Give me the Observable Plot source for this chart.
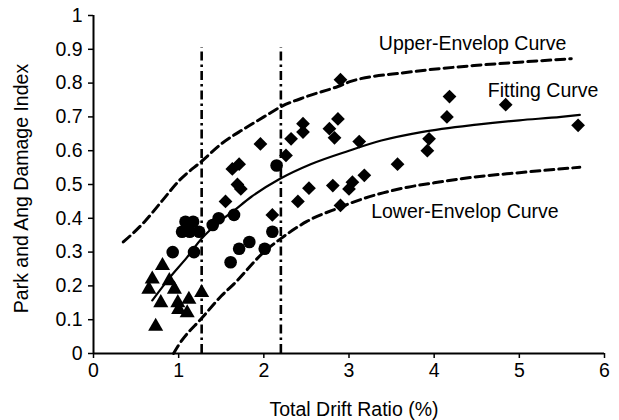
<!DOCTYPE html>
<html><head><meta charset="utf-8">
<script src="https://cdn.jsdelivr.net/npm/d3@7"></script>
<script src="https://cdn.jsdelivr.net/npm/@observablehq/plot@0.6"></script>
<style>html,body{margin:0;padding:0;background:#fff;}</style>
</head><body><div id="chart"></div>
<script>
// Tick values
const xTicks = [0, 1, 2, 3, 4, 5, 6];
const yTicks = [0, 0.1, 0.2, 0.3, 0.4, 0.5, 0.6, 0.7, 0.8, 0.9, 1];

// Scatter data: [drift ratio %, damage index]
const triangles = [
  [0.81, 0.26], [0.69, 0.22], [0.89, 0.215], [0.65, 0.19], [0.95, 0.19],
  [0.79, 0.15], [0.99, 0.15], [1.12, 0.16], [1.27, 0.18], [1.00, 0.13],
  [1.10, 0.12], [0.73, 0.08]
];
const circles = [
  [0.93, 0.30], [1.04, 0.36], [1.08, 0.39], [1.13, 0.36], [1.17, 0.39],
  [1.24, 0.36], [1.18, 0.30], [1.40, 0.38], [1.47, 0.40], [1.65, 0.41],
  [1.61, 0.27], [1.71, 0.31], [1.83, 0.33], [2.01, 0.31], [2.10, 0.36],
  [2.15, 0.556]
];
const diamonds = [
  [1.55, 0.45], [1.63, 0.546], [1.71, 0.56], [1.69, 0.50], [1.73, 0.487],
  [1.96, 0.62], [2.10, 0.41], [2.26, 0.586], [2.32, 0.635], [2.46, 0.68],
  [2.46, 0.655], [2.40, 0.45], [2.53, 0.489], [2.77, 0.665], [2.83, 0.638],
  [2.87, 0.694], [2.90, 0.81], [2.81, 0.497], [2.90, 0.438], [3.00, 0.487],
  [3.04, 0.507], [3.12, 0.627], [3.18, 0.527], [3.57, 0.56], [3.92, 0.60],
  [3.94, 0.635], [4.15, 0.70], [4.18, 0.76], [4.84, 0.736], [5.69, 0.675]
];

// Curves
const fitCurve = [
  [0.69, 0.157], [0.90, 0.226], [1.10, 0.285], [1.27, 0.34], [1.45, 0.384],
  [1.65, 0.423], [1.85, 0.463], [2.19, 0.517], [2.55, 0.56], [3.0, 0.60],
  [3.38, 0.63], [3.85, 0.655], [4.5, 0.677], [5.0, 0.69], [5.49, 0.70], [5.71, 0.706]
];
const upperCurve = [
  [0.35, 0.33], [0.6, 0.39], [0.81, 0.453], [1.0, 0.51], [1.28, 0.571],
  [1.5, 0.62], [1.77, 0.665], [2.0, 0.70], [2.2, 0.73], [2.5, 0.76],
  [2.87, 0.79], [3.02, 0.805], [3.69, 0.832], [4.47, 0.852], [5.0, 0.862], [5.61, 0.872]
];
const lowerCurve = [
  [0.94, 0.0], [1.0, 0.025], [1.28, 0.107], [1.5, 0.17], [1.65, 0.206],
  [2.0, 0.30], [2.2, 0.34], [2.5, 0.39], [2.9, 0.433], [3.02, 0.445],
  [3.69, 0.492], [4.0, 0.505], [4.47, 0.522], [5.0, 0.535], [5.71, 0.551]
];

// Vertical dash-dot limits
const limitX = [1.27, 2.2];
const limitTop = 0.905;

// Curve annotations
const annoText = ["Upper-Envelop Curve", "Fitting Curve", "Lower-Envelop Curve"];
const annoX = [3.35, 4.63, 3.26];
const annoY = [0.917, 0.778, 0.418];
const annos = annoText.map((t, i) => ({t, x: annoX[i], y: annoY[i]}));

const X = d => d[0], Y = d => d[1];

const chart = Plot.plot({
  width: 619, height: 420,
  marginLeft: 93, marginRight: 15, marginTop: 15, marginBottom: 67,
  style: {fontFamily: "'Liberation Sans', Arial, sans-serif", fontSize: "19.5px", background: "white", color: "black"},
  x: {domain: [0, 6]},
  y: {domain: [0, 1]},
  marks: [
    Plot.axisX({ticks: xTicks, tickSize: 5, tickPadding: 5, label: null, strokeWidth: 1.5,
      tickFormat: d => String(d)}),
    Plot.axisY({ticks: yTicks, tickSize: 5, tickPadding: 6, label: null, strokeWidth: 1.5,
      tickFormat: d => String(+d.toFixed(1))}),
    Plot.ruleY([0], {stroke: "black", strokeWidth: 2}),
    Plot.ruleX([0], {stroke: "black", strokeWidth: 2}),
    Plot.ruleX(limitX, {y1: 0, y2: limitTop, stroke: "black", strokeWidth: 2.6, strokeDasharray: "9,4,2.5,4"}),
    Plot.line(upperCurve, {x: X, y: Y, curve: "monotone-x", stroke: "black", strokeWidth: 3, strokeDasharray: "9,5"}),
    Plot.line(lowerCurve, {x: X, y: Y, curve: "monotone-x", stroke: "black", strokeWidth: 3, strokeDasharray: "9,5"}),
    Plot.line(fitCurve, {x: X, y: Y, curve: "monotone-x", stroke: "black", strokeWidth: 2.2}),
    Plot.dot(triangles, {x: X, y: Y, symbol: "triangle", r: 5.6, fill: "black", stroke: "none"}),
    Plot.dot(circles, {x: X, y: Y, symbol: "circle", r: 6.3, fill: "black", stroke: "none"}),
    Plot.dot(diamonds, {x: X, y: Y, symbol: "diamond2", r: 6.2, fill: "black", stroke: "none"}),
    Plot.text(annos, {x: "x", y: "y", text: "t", textAnchor: "start", fill: "black"}),
    Plot.text(["Total Drift Ratio (%)"], {frameAnchor: "bottom", textAnchor: "middle", lineAnchor: "middle", dx: 5, dy: 56, fill: "black"}),
    Plot.text(["Park and Ang Damage Index"], {frameAnchor: "left", textAnchor: "middle", lineAnchor: "middle", rotate: -90, dx: -72, dy: 4, fill: "black"})
  ]
});
document.getElementById("chart").appendChild(chart);
</script>
</body></html>
